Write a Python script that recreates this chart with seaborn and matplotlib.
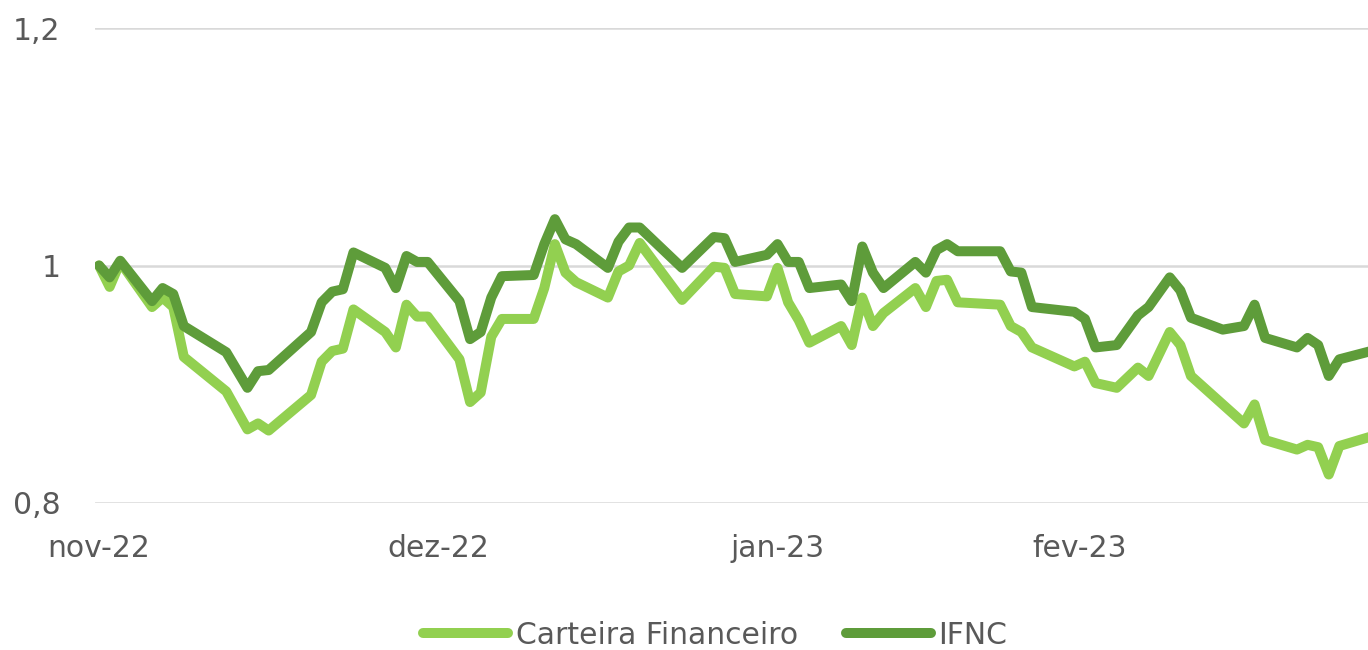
import matplotlib
matplotlib.use('Agg')
import matplotlib.pyplot as plt
import seaborn as sns
import pandas as pd

# ========== Dados ==========
# dias corridos a partir de 01/11/2022
dias = [0, 1, 2, 5, 6, 7, 8, 12, 14, 15, 16, 20, 21, 22, 23, 24, 27, 28, 29, 30,
        31, 34, 35, 36, 37, 38, 41, 42, 43, 44, 45, 48, 49, 50, 51, 55, 58, 59, 60, 63,
        64, 65, 66, 67, 70, 71, 72, 73, 74, 77, 78, 79, 80, 81, 85, 86, 87, 88, 92, 93,
        94, 96, 98, 99, 101, 102, 103, 106, 108, 109, 110, 113, 114, 115, 116, 117, 120]

carteira = [1.000, 0.982, 1.003, 0.965, 0.973, 0.965, 0.923, 0.894, 0.862, 0.867,
            0.861, 0.891, 0.919, 0.928, 0.930, 0.963, 0.944, 0.931, 0.967, 0.957,
            0.957, 0.921, 0.885, 0.893, 0.940, 0.955, 0.955, 0.981, 1.018, 0.994,
            0.986, 0.973, 0.995, 1.000, 1.019, 0.971, 0.999, 0.998, 0.976, 0.974,
            0.998, 0.969, 0.954, 0.935, 0.949, 0.933, 0.973, 0.949, 0.960, 0.981,
            0.965, 0.987, 0.988, 0.969, 0.967, 0.949, 0.944, 0.931, 0.915, 0.919,
            0.901, 0.897, 0.914, 0.907, 0.944, 0.933, 0.907, 0.883, 0.867, 0.883,
            0.853, 0.845, 0.849, 0.847, 0.824, 0.848, 0.856]

ifnc = [1.000, 0.990, 1.004, 0.970, 0.981, 0.976, 0.949, 0.927, 0.897, 0.911,
        0.912, 0.944, 0.969, 0.978, 0.980, 1.011, 0.998, 0.981, 1.008, 1.003,
        1.003, 0.970, 0.938, 0.944, 0.973, 0.991, 0.992, 1.018, 1.039, 1.022,
        1.018, 0.998, 1.020, 1.032, 1.032, 0.998, 1.024, 1.023, 1.003, 1.009,
        1.018, 1.003, 1.003, 0.981, 0.984, 0.970, 1.016, 0.994, 0.981, 1.003,
        0.994, 1.013, 1.018, 1.012, 1.012, 0.995, 0.994, 0.965, 0.961, 0.955,
        0.931, 0.933, 0.958, 0.965, 0.990, 0.979, 0.956, 0.946, 0.949, 0.967,
        0.939, 0.931, 0.939, 0.933, 0.907, 0.921, 0.928]

series = ['Carteira Financeiro', 'IFNC']
cores = ['#92D050', '#5E9C3A']

tick_pos = [0, 32, 64, 92.5]
tick_labels = ['nov-22', 'dez-22', 'jan-23', 'fev-23']
y_ticks = [0.8, 1.0, 1.2]
y_labels = ['0,8', '1', '1,2']

df = pd.concat([
    pd.DataFrame({'dia': dias, 'valor': carteira, 'serie': series[0]}),
    pd.DataFrame({'dia': dias, 'valor': ifnc, 'serie': series[1]}),
])

# ========== Gráfico ==========
sns.set_theme(style='white')
plt.rcParams['font.family'] = ['DejaVu Sans']
texto = '#595959'

fig = plt.figure(figsize=(13.68, 6.5), dpi=100)
ax = fig.add_axes([95 / 1368, 147 / 650, 1273 / 1368, 475 / 650])

sns.lineplot(data=df, x='dia', y='valor', hue='serie', hue_order=series,
             palette=cores, linewidth=7.2, legend=False, ax=ax, zorder=3)
for ln in ax.lines:
    ln.set_solid_joinstyle('round')
    ln.set_solid_capstyle('round')

ax.set_xlim(-0.38, 119.7)
ax.set_ylim(0.8, 1.2)
ax.set_yticks(y_ticks)
ax.set_yticklabels(y_labels)
ax.set_xticks(tick_pos)
ax.set_xticklabels(tick_labels)
ax.tick_params(axis='y', length=0, pad=25, labelsize=21.5, labelcolor=texto)
ax.tick_params(axis='x', length=0, pad=22, labelsize=21.5, labelcolor=texto)
ax.set_xlabel('')
ax.set_ylabel('')
ax.grid(axis='y', color='#D9D9D9', linewidth=1.8)
ax.grid(axis='x', visible=False)
sns.despine(ax=ax, left=True, bottom=True)

fig.legend(handles=ax.lines[:2], labels=series, loc='center',
           bbox_to_anchor=(0.5227, 0.023), ncol=2, frameon=False,
           fontsize=21.5, labelcolor=texto, handlelength=2.85,
           handletextpad=0.25, columnspacing=1.6)

fig.savefig('out.png', dpi=100)
